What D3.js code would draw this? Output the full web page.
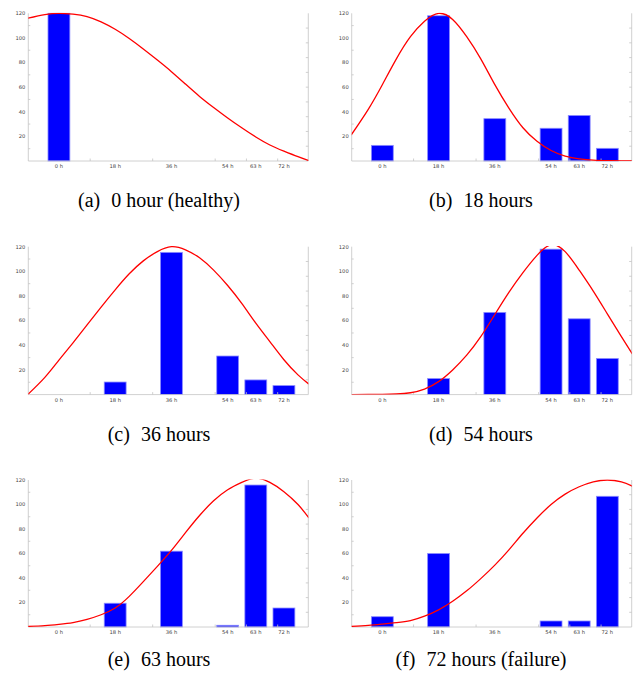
<!DOCTYPE html>
<html>
<head>
<meta charset="utf-8">
<script src="https://cdn.jsdelivr.net/npm/d3@7"></script>
<style>
  html, body { margin: 0; padding: 0; background: #fff; }
  svg { display: block; }
  .caption { font-family: "Liberation Serif", "Times New Roman", Times, "Nimbus Roman", "FreeSerif", "Noto Serif", "DejaVu Serif", serif; }
  .tick-label { font-family: "DejaVu Sans", sans-serif; }
</style>
</head>
<body>
<div id="chart"></div>
<script>
// categories (hours of operation) and their tick labels
const hours = [0, 18, 36, 54, 63, 72];
const hourLabels = ["0 h", "18 h", "36 h", "54 h", "63 h", "72 h"];
const yTicks = [20, 40, 60, 80, 100, 120];
const xMinorTicks = [10, 30, 50, 60, 70];
const rightTicks = [0.1, 0.2, 0.3, 0.4, 0.5, 0.6, 0.7, 0.8, 0.9];

const panelTags = ["(a)", "(b)", "(c)", "(d)", "(e)", "(f)"];
const panelTitles = ["0 hour (healthy)", "18 hours", "36 hours", "54 hours", "63 hours", "72 hours (failure)"];

// bar heights per panel, one per hour category
const countsA = [120, 0, 0, 0, 0, 0];
const countsB = [12.7, 118, 34.4, 26.6, 37, 10.3];
const countsC = [0, 10.2, 115.4, 31.3, 11.9, 7.3];
const countsD = [0, 13, 66.7, 118, 61.5, 29.3];
const countsE = [0, 19.4, 61.9, 1.4, 115.9, 15.5];
const countsF = [8.4, 60, 0, 4.9, 4.9, 106.7];

// fitted curve at these hours
const curveHours = [-10, -4.5, 0, 4.5, 9, 13.5, 18, 22.5, 27, 31.5, 36, 40.5, 45, 49.5, 54, 58.5, 63, 67.5, 72, 76.5, 80];
const curveA = [116, 119, 120, 119.3, 117.3, 113, 107, 99.5, 91, 82, 72.6, 62.5, 52.5, 43.5, 35, 27, 19.5, 13, 8, 3.5, 0.3];
const curveB = [21, 42, 62, 83, 101, 113.5, 120, 115, 101, 83, 62, 43, 27, 16, 8.5, 4, 1.8, 0.7, 0.3, 0.1, 0];
const curveC = [0, 14, 28, 42, 56.5, 71, 85, 98, 108.5, 116, 120, 117.5, 111, 101, 88.5, 74, 58, 43, 28.3, 16, 8.5];
const curveD = [0, 0.1, 0.2, 0.5, 1.5, 4.5, 10.5, 20, 32, 47, 65, 83, 99, 113, 121.5, 116, 101, 84, 65.5, 47, 33];
const curveE = [0.5, 1.2, 2.2, 3.6, 6.2, 10, 15.5, 25, 37, 49.5, 62.5, 77, 91, 103, 112, 118, 121.5, 118, 110.5, 100, 89];
const curveF = [0.5, 1.3, 2.4, 3.6, 5.2, 8.8, 14, 21, 29.5, 39.5, 50.5, 63, 76.5, 89, 100, 108.5, 114.5, 118.5, 120, 118.5, 115];

const panelCounts = [countsA, countsB, countsC, countsD, countsE, countsF];
const panelCurves = [curveA, curveB, curveC, curveD, curveE, curveF];

// layout
const W = 637, H = 679;
const cols = [{ x0: 28.3, x1: 308.3, cx: 159 }, { x0: 351.7, x1: 631.7, cx: 481 }];
const rows = [{ top: 13.3, bottom: 161, cap: 207 }, { top: 246.7, bottom: 394.6, cap: 441 }, { top: 480, bottom: 627, cap: 666 }];
const barHours = 7;

const svg = d3.select("#chart").append("svg")
  .attr("width", W)
  .attr("height", H);

panelCounts.forEach((counts, i) => {
  const col = cols[i % 2];
  const row = rows[Math.floor(i / 2)];

  const x = d3.scaleLinear().domain([-9.8, 79.8]).range([col.x0, col.x1]);
  const y = d3.scaleLinear().domain([0, 120]).range([row.bottom, row.top]);
  const y2 = d3.scaleLinear().domain([0, 1]).range([row.bottom, row.top]);

  const g = svg.append("g");

  // clip for the curve
  const clipId = "clip" + i;
  g.append("clipPath").attr("id", clipId)
    .append("rect")
    .attr("x", col.x0).attr("y", row.top - 0.6)
    .attr("width", col.x1 - col.x0).attr("height", row.bottom - row.top + 0.6);

  // bars
  g.append("g")
    .selectAll("rect")
    .data(hours.map((h, k) => ({ h, v: counts[k] })).filter(d => d.v > 0))
    .join("rect")
    .attr("x", d => x(d.h - barHours / 2))
    .attr("width", d => x(barHours) - x(0))
    .attr("y", d => y(d.v))
    .attr("height", d => y(0) - y(d.v))
    .attr("fill", "#0000ff")
    .attr("stroke", "#8c8cff")
    .attr("stroke-width", 0.8);

  // frame: left axis, bottom axis, right axis
  const frame = g.append("g").attr("stroke", "#c4c4c4").attr("stroke-width", 0.8).attr("fill", "none");
  frame.append("line").attr("x1", col.x0).attr("x2", col.x0).attr("y1", row.top).attr("y2", row.bottom);
  frame.append("line").attr("x1", col.x1).attr("x2", col.x1).attr("y1", row.top).attr("y2", row.bottom);
  frame.append("line").attr("x1", col.x0).attr("x2", col.x1).attr("y1", row.bottom).attr("y2", row.bottom);

  // small inner ticks
  frame.selectAll(".lt").data(yTicks.map(t => t - 10)).join("line")
    .attr("x1", col.x0).attr("x2", col.x0 + 2)
    .attr("y1", d => y(d)).attr("y2", d => y(d));
  frame.selectAll(".rt").data(rightTicks).join("line")
    .attr("x1", col.x1).attr("x2", col.x1 - 2.5)
    .attr("y1", d => y2(d)).attr("y2", d => y2(d));
  frame.selectAll(".xt").data(xMinorTicks).join("line")
    .attr("x1", d => x(d)).attr("x2", d => x(d))
    .attr("y1", row.bottom).attr("y2", row.bottom - 2.5);

  // y tick labels
  g.append("g").selectAll("text")
    .data(yTicks).join("text")
    .attr("class", "tick-label")
    .attr("x", col.x0 - 3)
    .attr("y", d => y(d))
    .attr("dy", "0.35em")
    .attr("text-anchor", "end")
    .attr("font-size", 5.2)
    .attr("fill", "#444")
    .text(d => d);

  // x tick labels
  g.append("g").selectAll("text")
    .data(hours).join("text")
    .attr("class", "tick-label")
    .attr("x", d => x(d))
    .attr("y", row.bottom + 7.2)
    .attr("text-anchor", "middle")
    .attr("font-size", 5.2)
    .attr("fill", "#444")
    .text((d, k) => hourLabels[k]);

  // curve
  const line = d3.line()
    .x((d, k) => x(curveHours[k]))
    .y(d => y(d))
    .curve(d3.curveNatural);
  g.append("path")
    .datum(panelCurves[i])
    .attr("clip-path", `url(#${clipId})`)
    .attr("d", line)
    .attr("fill", "none")
    .attr("stroke", "#ff0000")
    .attr("stroke-width", 1.3);

  // caption
  const cap = g.append("text")
    .attr("class", "caption")
    .attr("x", col.cx)
    .attr("y", row.cap)
    .attr("text-anchor", "middle")
    .attr("font-size", 20)
    .attr("fill", "#000");
  cap.append("tspan").text(panelTags[i]);
  cap.append("tspan").attr("dx", 6).text("\u00a0" + panelTitles[i]);
});
</script>
</body>
</html>
